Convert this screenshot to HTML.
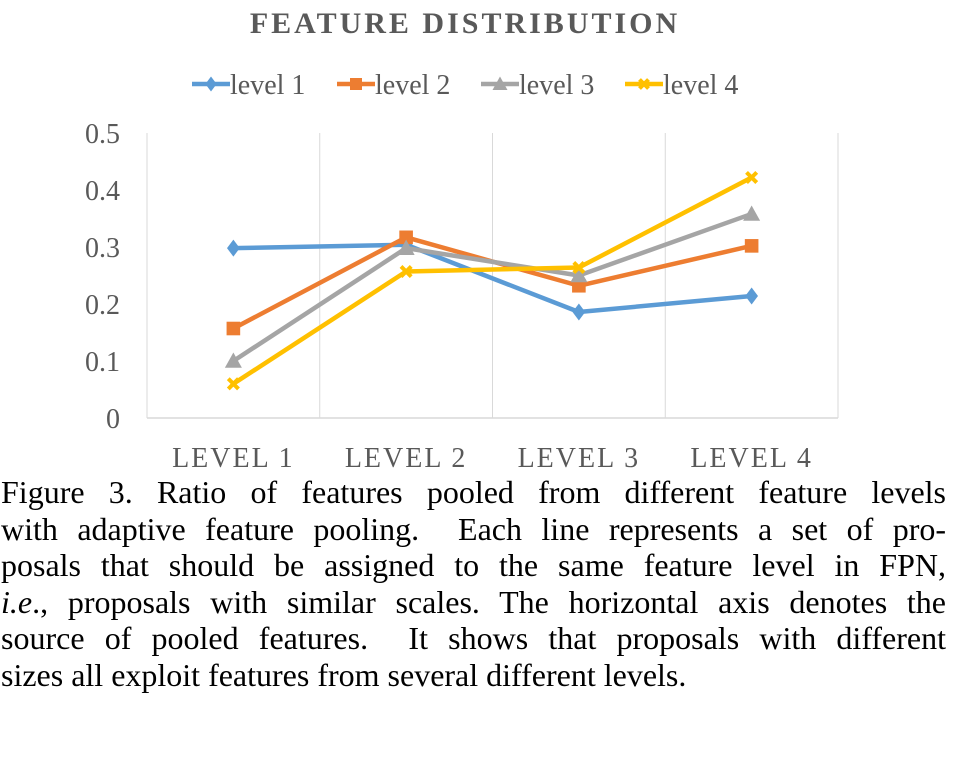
<!DOCTYPE html>
<html><head><meta charset="utf-8"><style>
body{margin:0;background:#fff;width:975px;height:758px;overflow:hidden;font-family:"Liberation Serif",serif}
#cap{position:absolute;left:1px;top:474px;width:945px;font-size:32px;line-height:36.6px;color:#000}
#cap div{text-align:justify;text-align-last:justify;white-space:nowrap}
#cap div.last{text-align-last:left}
</style></head><body>
<svg id="chart" width="975" height="470" style="position:absolute;left:0;top:0" font-family="Liberation Serif, serif">
<text x="465" y="33" text-anchor="middle" font-size="30" font-weight="bold" letter-spacing="3" fill="#595959">FEATURE DISTRIBUTION</text>
<g id="legend"></g>
<g id="grid"></g><g id="axes"></g><g id="series"></g>
</svg>
<div id="cap">
<div style="white-space:normal">Figure 3. Ratio of features pooled from different feature levels</div>
<div style="white-space:normal">with adaptive feature pooling. &nbsp;Each line represents a set of pro-</div>
<div style="white-space:normal">posals that should be assigned to the same feature level in FPN,</div>
<div style="white-space:normal"><i>i.e</i>., proposals with similar scales. The horizontal axis denotes the</div>
<div style="white-space:normal">source of pooled features. &nbsp;It shows that proposals with different</div>
<div class="last">sizes all exploit features from several different levels.</div>
</div>
<script>
const categories=["LEVEL 1","LEVEL 2","LEVEL 3","LEVEL 4"];
const yTicks=[0,0.1,0.2,0.3,0.4,0.5];
const yTickLabels=["0","0.1","0.2","0.3","0.4","0.5"];
const seriesNames=["level 1","level 2","level 3","level 4"];
const level1=[0.298,0.304,0.186,0.214];
const level2=[0.157,0.317,0.232,0.302];
const level3=[0.100,0.298,0.250,0.358];
const level4=[0.060,0.257,0.264,0.422];
const allSeries=[level1,level2,level3,level4];
const colors=["#5b9bd5","#ed7d31","#a5a5a5","#ffc000"];
const markers=["diamond","square","triangle","x"];
const NS="http://www.w3.org/2000/svg";
const L=147,R=838,T=133,B=418,yMax=0.5;
const bw=(R-L)/categories.length;
const xS=i=>L+bw*(i+0.5);
const yS=v=>B-(v/yMax)*(B-T);
function mk(tag,attrs,parent){const e=document.createElementNS(NS,tag);for(const k in attrs)e.setAttribute(k,attrs[k]);parent.appendChild(e);return e;}
const grid=document.getElementById('grid'),axes=document.getElementById('axes'),ser=document.getElementById('series'),leg=document.getElementById('legend');
for(let i=0;i<=categories.length;i++){const g=mk('line',{x1:L+bw*i,x2:L+bw*i,y1:T,y2:B,stroke:'#d9d9d9','stroke-width':1},grid);

}
const xa=mk('line',{x1:L,x2:R,y1:B,y2:B,stroke:'#d9d9d9','stroke-width':1.5},axes);


yTicks.forEach((v,i)=>{const t=mk('text',{x:120,y:yS(v)+10,'text-anchor':'end','font-size':28,fill:'#595959'},axes);t.textContent=yTickLabels[i];

});
categories.forEach((c,i)=>{const t=mk('text',{x:xS(i),y:467,'text-anchor':'middle','font-size':28,'letter-spacing':2,fill:'#595959'},axes);t.textContent=c;

});
function marker(type,x,y,col,p,s){
 if(type==='diamond')return mk('polygon',{points:`${x},${y-s} ${x+s*0.75},${y} ${x},${y+s} ${x-s*0.75},${y}`,fill:col},p);
 if(type==='square')return mk('rect',{x:x-s*0.8,y:y-s*0.8,width:s*1.6,height:s*1.6,fill:col},p);
 if(type==='triangle')return mk('polygon',{points:`${x},${y-s} ${x+s},${y+s*0.8} ${x-s},${y+s*0.8}`,fill:col},p);
 return mk('path',{d:`M${x-s*0.6},${y-s*0.6}L${x+s*0.6},${y+s*0.6}M${x+s*0.6},${y-s*0.6}L${x-s*0.6},${y+s*0.6}`,stroke:col,'stroke-width':4},p);
}
allSeries.forEach((vals,si)=>{
 const g=mk('g',{},ser);
 
 
 const pl=mk('polyline',{points:vals.map((v,i)=>xS(i)+','+yS(v)).join(' '),fill:'none',stroke:colors[si],'stroke-width':4.5,'stroke-linejoin':'round'},g);
 
 
 vals.forEach((v,i)=>{const m=marker(markers[si],xS(i),yS(v),colors[si],g,8.5);
 
 });
});
const legX=[192,337,481,625];
seriesNames.forEach((n,si)=>{
 const g=mk('g',{},leg);
 
 
 const x=legX[si],y=84;
 mk('line',{x1:x,x2:x+38,y1:y,y2:y,stroke:colors[si],'stroke-width':4.5},g);
 marker(markers[si],x+19,y,colors[si],g,7.5);
 const t=mk('text',{x:x+38,y:y+10,'font-size':28,fill:'#595959'},g);t.textContent=n;
});
</script>
</body></html>
